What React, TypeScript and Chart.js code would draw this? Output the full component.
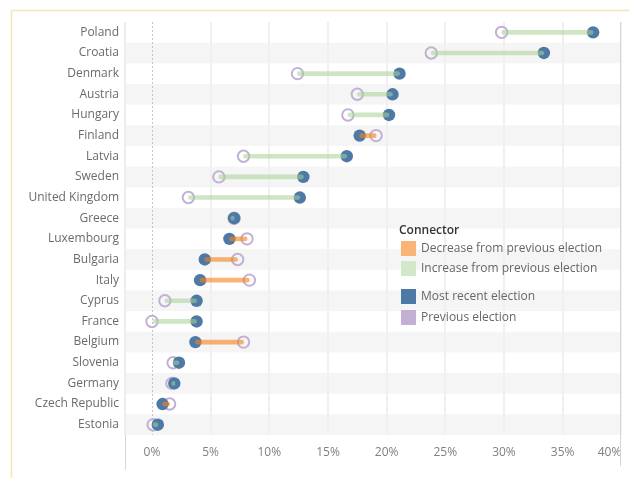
import { useEffect, useRef } from "react";
import { Chart, registerables } from "chart.js";
Chart.register(...registerables);

const countries = [
  "Poland", "Croatia", "Denmark", "Austria", "Hungary", "Finland", "Latvia", "Sweden",
  "United Kingdom", "Greece", "Luxembourg", "Bulgaria", "Italy", "Cyprus", "France",
  "Belgium", "Slovenia", "Germany", "Czech Republic", "Estonia",
];
const mostRecent = [37.6, 33.4, 21.1, 20.5, 20.2, 17.7, 16.6, 12.9, 12.6, 7.0, 6.6, 4.5, 4.1, 3.8, 3.8, 3.7, 2.3, 1.9, 0.9, 0.5];
const previous = [29.8, 23.8, 12.4, 17.5, 16.7, 19.1, 7.8, 5.7, 3.1, 7.0, 8.1, 7.3, 8.3, 1.1, 0.0, 7.8, 1.8, 1.7, 1.5, 0.1];
const xMin = -2.3;
const xMax = 40;
const xTickValues = [0, 5, 10, 15, 20, 25, 30, 35, 40];
const legendTitle = "Connector";
const legendLabels = [
  "Decrease from previous election",
  "Increase from previous election",
  "Most recent election",
  "Previous election",
];

const FONT = "'Open Sans', sans-serif";
const BLUE = "#4e79a7";
const PURPLE = "#c3b0d5";
const ORANGE_SOLID = "#fab475";
const GREEN_SOLID = "#d2e8c8";
const ORANGE_LINE = "rgba(245,130,25,0.6)";
const GREEN_LINE = "rgba(168,210,150,0.55)";

const decorPlugin = {
  id: "decor",
  beforeDraw(chart: any) {
    const { ctx, chartArea, scales } = chart;
    const y = scales.y;
    ctx.save();
    const step = (chartArea.bottom - chartArea.top) / countries.length;
    countries.forEach((_, i) => {
      if (i % 2 === 1) {
        const c = y.getPixelForValue(i);
        ctx.fillStyle = "#f4f5f4";
        ctx.fillRect(chartArea.left, c - step / 2, chartArea.right - chartArea.left, step);
      }
    });
    ctx.restore();
  },
  beforeDatasetsDraw(chart: any) {
    const { ctx, chartArea, scales } = chart;
    const x = scales.x;
    ctx.save();
    const zx = Math.round(x.getPixelForValue(0)) + 0.5;
    ctx.strokeStyle = "#c4c4c4";
    ctx.lineWidth = 1;
    ctx.setLineDash([2, 2]);
    ctx.beginPath();
    ctx.moveTo(zx, chartArea.top);
    ctx.lineTo(zx, chartArea.bottom);
    ctx.stroke();
    ctx.setLineDash([]);
    ctx.strokeStyle = "#d6d6d6";
    ctx.beginPath();
    ctx.moveTo(chartArea.left + 0.5, chartArea.bottom);
    ctx.lineTo(chartArea.left + 0.5, chartArea.bottom + 35);
    ctx.stroke();
    const rx = Math.round(x.getPixelForValue(xMax)) - 0.5;
    ctx.beginPath();
    ctx.moveTo(rx, chartArea.top);
    ctx.lineTo(rx, chartArea.bottom + 31);
    ctx.stroke();
    ctx.restore();
  },
  afterDraw(chart: any) {
    const { ctx } = chart;
    ctx.save();
    ctx.strokeStyle = "#f3e7b0";
    ctx.lineWidth = 1.5;
    ctx.beginPath();
    ctx.moveTo(11.5, 478);
    ctx.lineTo(11.5, 10.5);
    ctx.lineTo(629, 10.5);
    ctx.stroke();
    ctx.fillStyle = "#333333";
    ctx.font = `600 12px ${FONT}`;
    ctx.textBaseline = "middle";
    ctx.textAlign = "left";
    ctx.fillText(legendTitle, 399, 231);
    const colors = [ORANGE_SOLID, GREEN_SOLID, BLUE, PURPLE];
    const ys = [248, 268, 296, 317];
    ctx.font = `12px ${FONT}`;
    legendLabels.forEach((lab, i) => {
      ctx.fillStyle = colors[i];
      ctx.fillRect(401, ys[i] - 7, 15, 15);
      ctx.fillStyle = "#666666";
      ctx.fillText(lab, 421, ys[i] + 0.5);
    });
    ctx.restore();
  },
};

export default function App() {
  const ref = useRef<HTMLCanvasElement | null>(null);
  useEffect(() => {
    if (!ref.current) return;
    const connectorData = countries.map((_, i) => [previous[i], mostRecent[i]]);
    const connectorColors = countries.map((_, i) =>
      mostRecent[i] < previous[i] ? ORANGE_LINE : GREEN_LINE
    );
    const chart = new Chart(ref.current, {
      type: "bar",
      data: {
        labels: countries,
        datasets: [
          {
            type: "bar",
            label: "Connector",
            data: connectorData as any,
            backgroundColor: connectorColors,
            borderWidth: 0,
            barThickness: 4,
            borderRadius: 2,
            borderSkipped: false,
            minBarLength: 3,
            order: 0,
          } as any,
          {
            type: "line",
            label: "Most recent election",
            data: mostRecent,
            showLine: false,
            pointRadius: 6.2,
            pointBackgroundColor: BLUE,
            pointBorderWidth: 0,
            pointBorderColor: BLUE,
            order: 1,
          } as any,
          {
            type: "line",
            label: "Previous election",
            data: previous,
            showLine: false,
            pointRadius: 5.7,
            pointBackgroundColor: "rgba(255,255,255,0)",
            pointBorderColor: PURPLE,
            pointBorderWidth: 2,
            order: 2,
          } as any,
        ],
      },
      options: {
        indexAxis: "y",
        animation: false,
        responsive: false,
        layout: { padding: { left: 0, right: 5, top: 22, bottom: 8 } },
        plugins: {
          legend: { display: false },
          tooltip: { enabled: false },
        },
        scales: {
          y: {
            type: "category",
            grid: { display: false, drawTicks: false },
            border: { display: false },
            ticks: { color: "#6b6b6b", font: { family: FONT, size: 12 }, padding: 6 },
            afterFit: (s: any) => {
              s.width = 125;
            },
          },
          x: {
            type: "linear",
            min: xMin,
            max: xMax,
            afterBuildTicks: (s: any) => {
              s.ticks = [xMin, ...xTickValues].map((v) => ({ value: v }));
            },
            grid: {
              drawTicks: false,
              lineWidth: 2,
              color: (c: any) => {
                const v = c.tick ? c.tick.value : null;
                if (v === 0) return "rgba(0,0,0,0)";
                if (v === xMin) return "#ededed";
                return "#f0f0f0";
              },
            },
            border: { display: false },
            ticks: {
              align: "inner",
              color: "#808080",
              font: { family: FONT, size: 12 },
              padding: 10,
              callback: (v: any) => (v === xMin ? "" : `${v}%`),
            },
            afterFit: (s: any) => {
              s.height = 35;
              s.paddingLeft = 0;
              s.paddingRight = 0;
            },
          },
        },
      },
      plugins: [decorPlugin],
    });
    return () => chart.destroy();
  }, []);
  return (
    <div style={{ position: "fixed", left: 0, top: 0, width: 629, height: 478, background: "#fff" }}>
      <canvas ref={ref} width={629} height={478} />
    </div>
  );
}
